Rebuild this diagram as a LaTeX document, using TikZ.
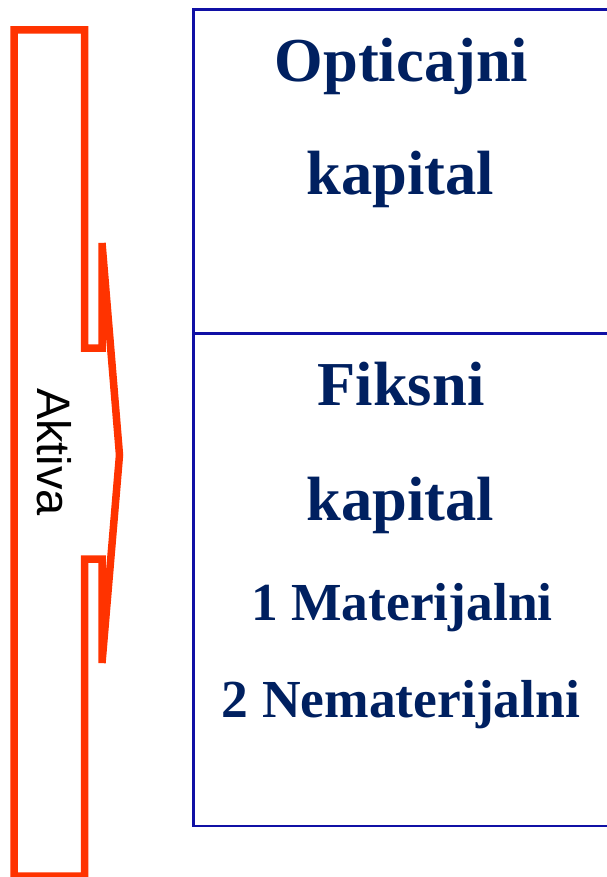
\documentclass[tikz,border=0pt]{standalone}
\usepackage{fontspec}
\setmainfont{Liberation Serif}
\newfontfamily\labelsans{Liberation Sans}
\definecolor{arrowred}{RGB}{255,51,0}
\definecolor{frameblue}{RGB}{16,16,165}
\definecolor{textnavy}{RGB}{0,32,96}
\begin{document}
\begin{tikzpicture}[x=1pt,y=-1pt,
  frame/.style={draw=frameblue,line width=2.3pt},
  bigword/.style={anchor=base,inner sep=0pt,text=textnavy,font=\bfseries\fontsize{62.5}{62.5}\selectfont},
  smallword/.style={anchor=base,inner sep=0pt,text=textnavy,font=\bfseries\fontsize{53.5}{53.5}\selectfont}]
\useasboundingbox (0,0) rectangle (606,877);
% column holding the assets, with its arrow towards the right
\draw[arrowred,line width=7.5pt,line join=miter]
  (14,30) -- (84.5,30) -- (84.5,348) -- (102,348) -- (102,243)
  -- (119.5,455) -- (102,663) -- (102,559) -- (84.5,559)
  -- (84.5,876) -- (14,876) -- cycle;
\node[anchor=base,rotate=-90,inner sep=0pt,font=\labelsans\fontsize{47}{47}\selectfont] (aktiva) at (37,452) {Aktiva};
% capital table
\draw[frame] (612,9.5) -- (193.5,9.5) -- (193.5,826) -- (612,826);
\draw[frame] (193.5,333.5) -- (612,333.5);
\node[bigword] (opt1) at (401.5,82) {Opticajni};
\node[bigword] (opt2) at (400.5,195) {kapital};
\node[bigword] (fix1) at (401,405) {Fiksni};
\node[bigword] (fix2) at (400.5,520) {kapital};
\node[smallword] (mat) at (402,620) {1 Materijalni};
\node[smallword] (nemat) at (401,717) {2 Nematerijalni};
\end{tikzpicture}
\end{document}
